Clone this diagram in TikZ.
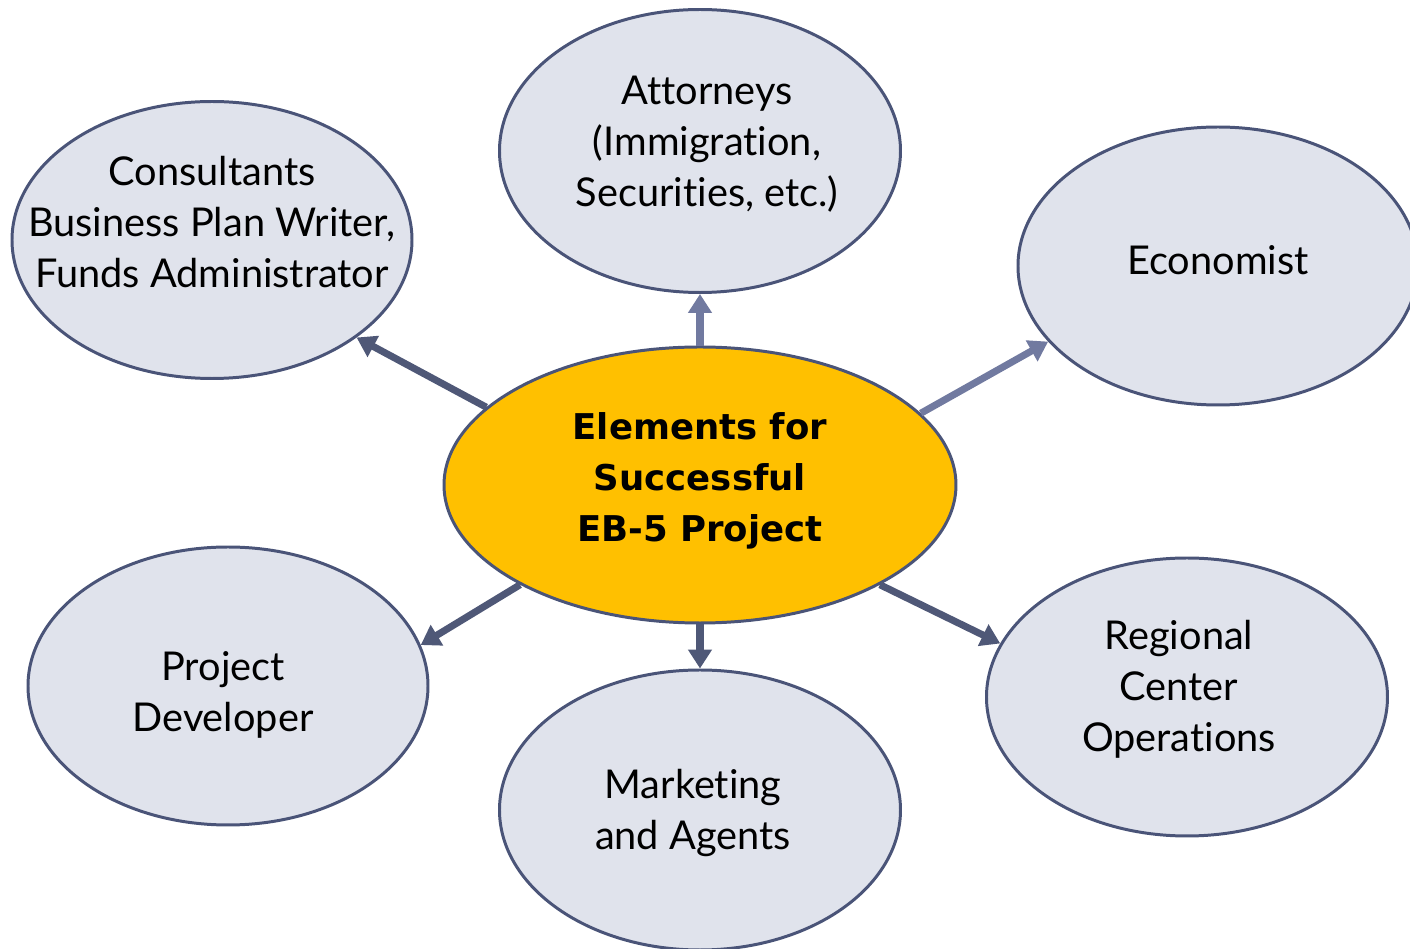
\documentclass[tikz,border=0pt]{standalone}
\usepackage{fontspec}
\setmainfont[Ligatures=CommonOff]{Lato}
\newfontfamily\centfont{DejaVu Sans}
\usetikzlibrary{shapes.geometric,arrows.meta}
\definecolor{rimblue}{HTML}{4A5478}
\definecolor{bubble}{HTML}{E0E3EC}
\definecolor{gold}{HTML}{FFC000}
\definecolor{darkarr}{HTML}{4F5877}
\definecolor{lightarr}{HTML}{717AA0}
% text block shifted by (#1,#2) without changing the node size
\newcommand{\bubtext}[3]{\hspace*{#1}\raisebox{#2}[\height][\depth]{\begin{tabular}{@{}c@{}}#3\end{tabular}}\hspace*{-#1}}
\tikzset{
  bub/.style={ellipse,draw=rimblue,line width=0.85pt,fill=bubble,
    inner xsep=-1.2cm,inner ysep=-0.8cm,
    minimum width=4cm,minimum height=2.78cm,
    font=\fontsize{11.3}{14.5}\selectfont},
  hub/.style={bub,fill=gold,minimum width=5.12cm,minimum height=2.76cm,
    font=\centfont\bfseries\fontsize{10.1}{14.5}\selectfont},
  arr/.style={line width=2pt,draw=darkarr,-{Triangle[width=0.23cm,length=0.19cm]}},
  arrlight/.style={arr,draw=lightarr}
}
\begin{document}
\begin{tikzpicture}
\useasboundingbox (0,0) rectangle (14.1,9.49);

\node[hub] (hub) at (7.00,4.64) {\bubtext{0cm}{0.05cm}{Elements for\\Successful\\EB-5 Project}};
\node[bub,minimum width=4.01cm,minimum height=2.83cm] (att) at (7.00,7.98) {\bubtext{0.07cm}{0.06cm}{Attorneys\\(Immigration,\\Securities, etc.)}};
\node[bub,minimum height=2.77cm] (cons) at (2.12,7.09) {\bubtext{0cm}{0.14cm}{Consultants\\Business Plan Writer,\\Funds Administrator}};
\node[bub] (econ) at (12.18,6.83) {\bubtext{0cm}{0.02cm}{Economist}};
\node[bub] (dev) at (2.28,2.63) {\bubtext{-0.05cm}{-0.10cm}{Project\\Developer}};
\node[bub,minimum width=4.01cm,minimum height=2.80cm] (mkt) at (7.00,1.39) {\bubtext{-0.07cm}{-0.04cm}{Marketing\\and Agents}};
\node[bub,minimum width=4.01cm] (reg) at (11.87,2.52) {\bubtext{-0.08cm}{0.07cm}{Regional\\Center\\Operations}};

\draw[arrlight] (hub.90) -- (att.-90);
\draw[arr] (hub.160) -- (cons.-34);
\draw[arrlight] (hub.18) -- (econ.204);
\draw[arr] (hub.209) -- (dev.12);
\draw[arr] (hub.-90) -- (mkt.90);
\draw[arr] (hub.-29) -- (reg.164);

\end{tikzpicture}
\end{document}
